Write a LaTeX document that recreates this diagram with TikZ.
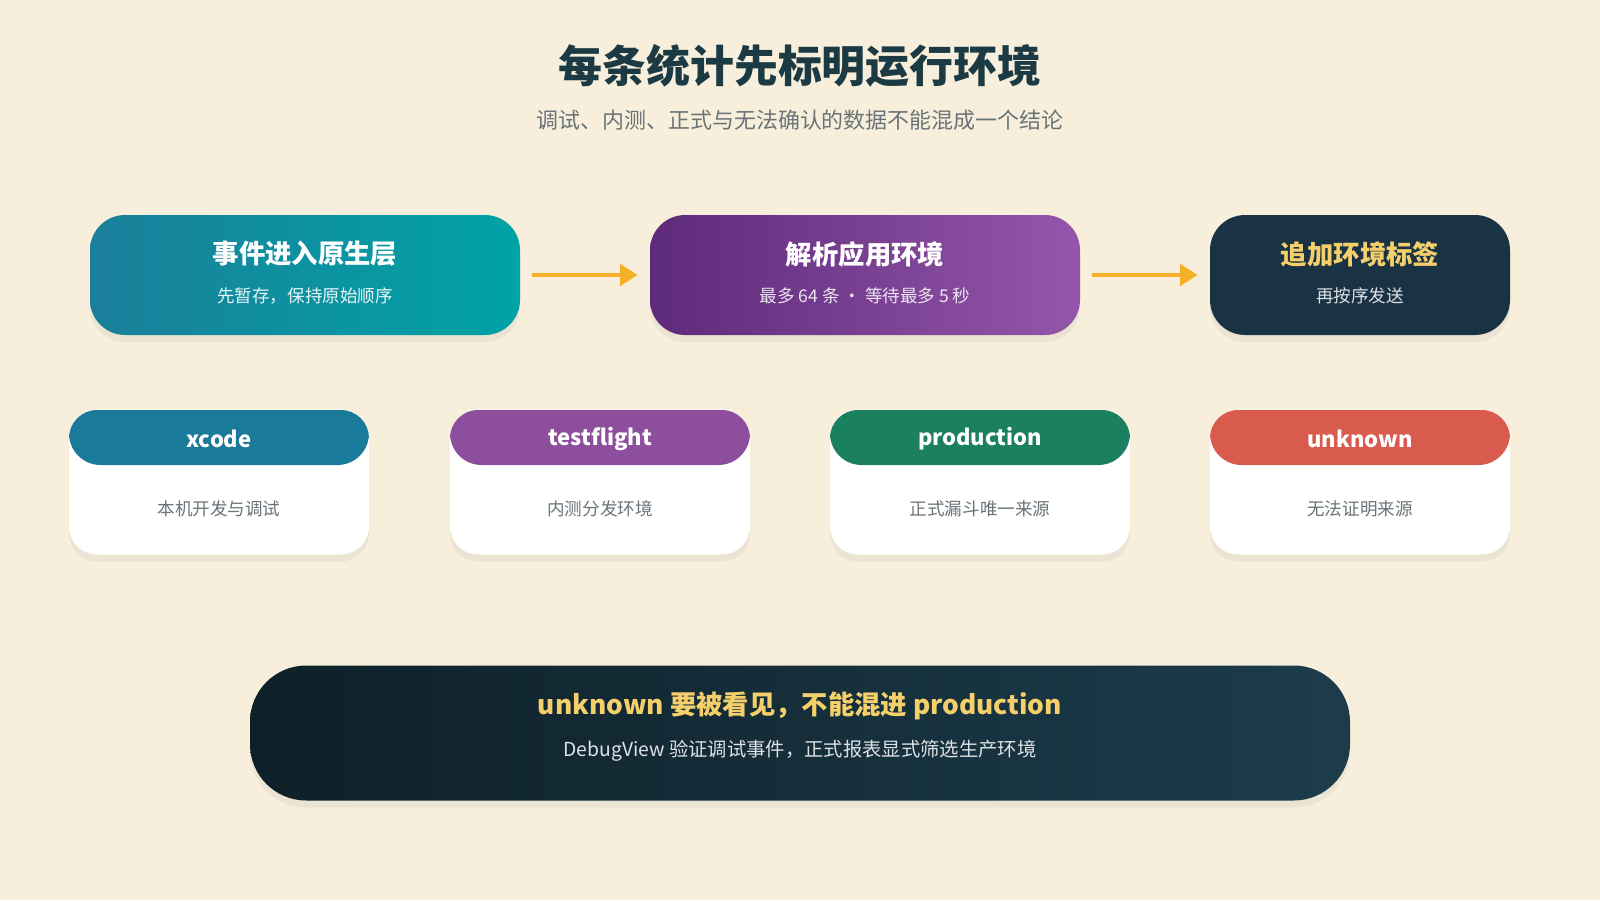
\documentclass[tikz,border=0pt]{standalone}
\usepackage{fontspec}
\setmainfont{Noto Sans CJK SC}
\usetikzlibrary{shadows,arrows.meta}
\definecolor{bg}{HTML}{F7EFDC}
\definecolor{tc}{HTML}{1B3A44}
\definecolor{sub}{HTML}{6A7478}
\definecolor{ylw}{HTML}{F5D06A}
\definecolor{arr}{HTML}{F5B02A}
\definecolor{bA}{HTML}{1A7F9A}\definecolor{bB}{HTML}{00A3A6}
\definecolor{pA}{HTML}{5E2A7A}\definecolor{pB}{HTML}{9456AA}
\definecolor{nv}{HTML}{1A3344}
\definecolor{cx}{HTML}{1A7A9A}\definecolor{ct}{HTML}{8E4E9E}
\definecolor{cp}{HTML}{1A8060}\definecolor{cu}{HTML}{D95B4E}
\definecolor{dA}{HTML}{0E2028}\definecolor{dB}{HTML}{1C3C4C}
\tikzset{
 shd/.style={drop shadow={shadow xshift=0pt,shadow yshift=-4pt,opacity=0.08,fill=black!60}},
 flow/.style={draw=none,rounded corners=20pt,minimum width=#1*0.02cm,minimum height=120*0.02cm,shd},
 ttl/.style={font=\bfseries\fontsize{15}{18}\selectfont},
 st/.style={font=\fontsize{10}{12}\selectfont},
 card/.style={fill=white,rounded corners=16pt,minimum width=300*0.02cm,minimum height=145*0.02cm,shd},
 ar/.style={draw=arr,line width=2.5pt,-{Triangle[length=10pt,width=12pt]}},
}
\begin{document}
\begin{tikzpicture}[x=0.02cm,y=-0.02cm]
\fill[bg] (0,0) rectangle (1600,900);
\node[text=tc,font=\bfseries\fontsize{25}{30}\selectfont] (t) at (800,66) {每条统计先标明运行环境};
\node[text=sub,font=\fontsize{12.5}{15}\selectfont] (s) at (800,120) {调试、内测、正式与无法确认的数据不能混成一个结论};
% flow boxes
\node[flow=430,left color=bA,right color=bB] (f1) at (305,275) {};
\node[ttl,white] at (305,254) {事件进入原生层};
\node[st,white!90!bB] at (305,296) {先暂存，保持原始顺序};
\node[flow=430,left color=pA,right color=pB] (f2) at (865,275) {};
\node[ttl,white] at (865,254) {解析应用环境};
\node[st,white!88!pA] at (865,296) {最多 64 条 · 等待最多 5 秒};
\node[flow=300,fill=nv] (f3) at (1360,275) {};
\node[ttl,ylw] at (1360,254) {追加环境标签};
\node[st,white!85!nv] at (1360,296) {再按序发送};
\draw[ar] (f1.east)++(12,0) -- ([xshift=-12*0.02cm]f2.west);
\draw[ar] (f2.east)++(12,0) -- ([xshift=-12*0.02cm]f3.west);
% cards
\foreach \cx/\col/\h/\b/\nm in {219/cx/xcode/本机开发与调试/c1,600/ct/testflight/内测分发环境/c2,980/cp/production/正式漏斗唯一来源/c3,1360/cu/unknown/无法证明来源/c4}{
 \node[card] (\nm) at (\cx,482) {};
 \begin{scope}
 \clip[rounded corners=16pt] (\cx-150,410) rectangle (\cx+150,555);
 \fill[\col,rounded corners=18pt] (\cx-150,390) rectangle (\cx+150,465);
 \end{scope}
 \node[white,font=\bfseries\fontsize{12.5}{15}\selectfont] at (\cx,439) {\h\vphantom{x}};
 \node[sub,st] at (\cx,509) {\b};
}
% bottom
\node[draw=none,rounded corners=32pt,left color=dA,right color=dB,minimum width=1100*0.02cm,minimum height=135*0.02cm,shd] (bt) at (800,733) {};
\node[ylw,ttl] at (800,706) {unknown 要被看见，不能混进 production};
\node[white!85!dB,font=\fontsize{11}{13}\selectfont] at (800,751) {DebugView 验证调试事件，正式报表显式筛选生产环境};
\end{tikzpicture}
\end{document}
